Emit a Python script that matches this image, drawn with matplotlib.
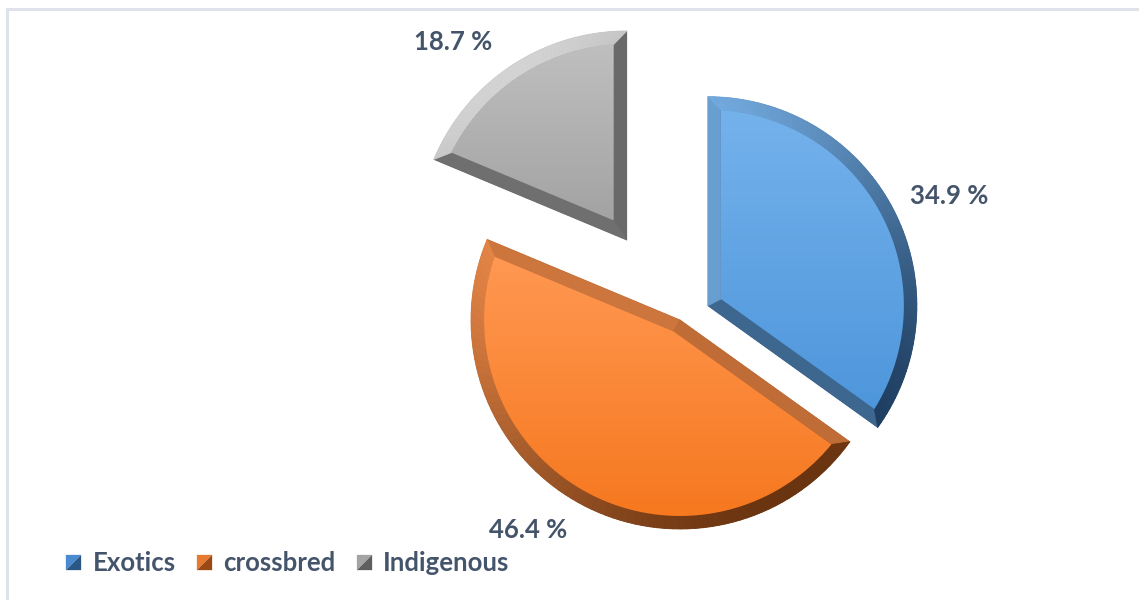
import numpy as np
import matplotlib
matplotlib.use('Agg')
import matplotlib.pyplot as plt
from matplotlib.collections import PolyCollection
from matplotlib.colors import to_rgb
from matplotlib.lines import Line2D
from matplotlib.patches import Polygon

# data
categories = ['Exotics', 'crossbred', 'Indigenous']
shares = [34.9, 46.4, 18.7]
explode = [0.15, 0.0, 0.46]

# colours
fill_top = ['#74b2ec', '#ff9852', '#bfbfbf']
fill_bottom = ['#4e96db', '#f6781f', '#a3a3a3']
bevel_light = ['#7cb6ec', '#ec8a4a', '#d4d4d4']
bevel_dark = ['#1d3c5e', '#6a3410', '#4e4e4e']
legend_light = ['#4a8ad0', '#e67a30', '#a4a4a4']
legend_dark = ['#2a5784', '#9a4814', '#5e5e5e']
text_color = '#44546a'

plt.rcParams['font.family'] = ['Lato', 'DejaVu Sans']

R_PX = 209.0          # pie radius in pixels
BEVEL = 13.0 / R_PX   # bevel width in radius units
LIGHT = np.array([-0.6, 0.8])
label_dist = [1.27, 1.24, 1.26]
label_shift = [-2.7, -6.7, 7.5]


def u(a):
    return np.array([np.cos(a), np.sin(a)])


def wrap_near(a, ref):
    return ref + (a - ref + np.pi) % (2 * np.pi) - np.pi


fig = plt.figure(figsize=(11.39, 6.0), dpi=100)
ax = fig.add_axes([0, 0, 1, 1])

wedges, texts, autotexts = ax.pie(
    shares, explode=explode, startangle=90, counterclock=False,
    colors=bevel_dark, autopct='%.1f %%', wedgeprops=dict(linewidth=0))

for i, w in enumerate(wedges):
    c = np.array(w.center)
    r = w.r
    t1, t2 = np.radians(w.theta1), np.radians(w.theta2)
    half, mid = (t2 - t1) / 2, (t1 + t2) / 2

    # inner (flat) face of the bevelled slice
    p = c + BEVEL / np.sin(half) * u(mid)
    q = p - c

    def hit(a):
        d = u(a)
        qd = q @ d
        return p + (-qd + np.sqrt(qd ** 2 - q @ q + (r - BEVEL) ** 2)) * d

    i1, i2 = hit(t1), hit(t2)
    a1 = wrap_near(np.arctan2(*(i1 - c)[::-1]), t1)
    a2 = wrap_near(np.arctan2(*(i2 - c)[::-1]), t2)

    n = 80
    oa = np.linspace(t1, t2, n + 1)
    ia = np.linspace(a1, a2, n + 1)
    outer = c + r * np.column_stack([np.cos(oa), np.sin(oa)])
    inner = c + (r - BEVEL) * np.column_stack([np.cos(ia), np.sin(ia)])

    facets = [[c, outer[0], inner[0], p], [c, p, inner[-1], outer[-1]]]
    normals = [u(t1 - np.pi / 2), u(t2 + np.pi / 2)]
    for k in range(n):
        facets.append([outer[k], outer[k + 1], inner[k + 1], inner[k]])
        normals.append(u((oa[k] + oa[k + 1]) / 2))

    lo, hi = np.array(to_rgb(bevel_dark[i])), np.array(to_rgb(bevel_light[i]))
    cols = [lo + (hi - lo) * np.clip((nv @ LIGHT + 1) / 2, 0, 1) for nv in normals]
    ax.add_collection(PolyCollection(facets, facecolors=cols, edgecolors=cols,
                                     linewidths=0.6, zorder=2))

    face = np.vstack([p, inner])
    clip = Polygon(face, closed=True, transform=ax.transData)
    top, bot = np.array(to_rgb(fill_top[i])), np.array(to_rgb(fill_bottom[i]))
    grad = top + (bot - top) * np.linspace(0, 1, 256)[:, None, None]
    im = ax.imshow(grad, extent=(face[:, 0].min(), face[:, 0].max(),
                                 face[:, 1].min(), face[:, 1].max()),
                   origin='upper', aspect='auto', zorder=3, interpolation='bilinear')
    im.set_clip_path(clip)

    ang = np.radians((w.theta1 + w.theta2) / 2 + label_shift[i])
    autotexts[i].set_position(c + label_dist[i] * r * u(ang))
    autotexts[i].set(ha='center', va='center', fontsize=18.5, fontweight='bold',
                     color=text_color, zorder=5)

ax.set_xlim(-680 / R_PX, 459 / R_PX)
ax.set_ylim(-280 / R_PX, 320 / R_PX)
ax.set_aspect('equal')
ax.axis('off')

ul = [(-1, -1), (-1, 1), (1, 1), (-1, -1)]
lr = [(-1, -1), (1, 1), (1, -1), (-1, -1)]
handles = [(Line2D([], [], ls='', marker=ul, ms=11, mfc=legend_light[i], mew=0),
            Line2D([], [], ls='', marker=lr, ms=11, mfc=legend_dark[i], mew=0))
           for i in range(len(categories))]
ax.legend(handles, categories, loc='center left', bbox_to_anchor=(67 / 1139, 37 / 600),
          ncol=3, frameon=False, borderpad=0, borderaxespad=0, handlelength=0.5,
          handletextpad=0.5, columnspacing=0.85, labelcolor=text_color,
          prop=dict(family=['Lato', 'DejaVu Sans'], size=18.5, weight='bold'))

# chart frame (top and left edges only are visible)
fig.add_artist(Line2D([7 / 1139, 1], [1 - 9 / 600, 1 - 9 / 600], color='#dee3ea', lw=2.2))
fig.add_artist(Line2D([7 / 1139, 7 / 1139], [0, 1 - 9 / 600], color='#dee3ea', lw=2.2))

fig.savefig('out.png', dpi=100, facecolor='white')
